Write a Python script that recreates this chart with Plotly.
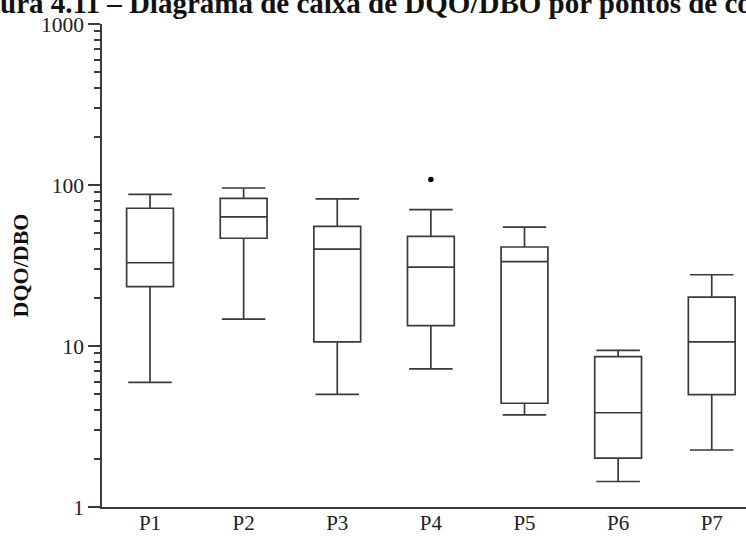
import plotly.graph_objects as go

categories = ["P1", "P2", "P3", "P4", "P5", "P6", "P7"]
lower_whisker = [5.95, 14.7, 5.0, 7.2, 3.73, 1.44, 2.26]
q1 = [23.4, 46.7, 10.6, 13.4, 4.41, 2.01, 4.99]
median = [32.9, 63.3, 40.0, 30.9, 33.4, 3.85, 10.6]
q3 = [71.7, 82.7, 55.4, 48.0, 41.2, 8.58, 20.1]
upper_whisker = [87.5, 95.8, 81.9, 70.3, 54.8, 9.40, 27.7]
outlier_cat = ["P4"]
outlier_val = [108.0]

y_tickvals = [1, 10, 100, 1000]
y_ticktext = ["1", "10", "100", "1000"]
minor_vals = [m * d for d in (1, 10, 100) for m in range(2, 10)]

FONT = "Liberation Serif"
LINE = "#3a3a3a"

fig = go.Figure()
fig.add_trace(go.Box(
    x=categories,
    q1=q1, median=median, q3=q3,
    lowerfence=lower_whisker, upperfence=upper_whisker,
    boxpoints=False,
    width=0.5,
    whiskerwidth=0.93,
    fillcolor="white",
    line=dict(color=LINE, width=1.7),
    showlegend=False,
    hoverinfo="skip",
))
fig.add_trace(go.Scatter(
    x=outlier_cat, y=outlier_val, mode="markers",
    marker=dict(color="black", size=5.5),
    showlegend=False, hoverinfo="skip",
))

fig.update_layout(
    width=746, height=536,
    margin=dict(l=102, r=0, t=24, b=29, autoexpand=False),
    paper_bgcolor="white", plot_bgcolor="white",
    font=dict(family=FONT, size=21, color="#222"),
    xaxis=dict(
        type="category",
        range=[-0.513, 6.366],
        automargin=False,
        showline=True, linecolor=LINE, linewidth=1.6,
        ticks="", showgrid=False, zeroline=False,
        ticklabelstandoff=-4,
        tickfont=dict(family=FONT, size=21, color="#222"),
    ),
    yaxis=dict(
        type="log",
        range=[0, 3],
        automargin=False,
        showline=True, linecolor=LINE, linewidth=1.6,
        ticks="outside", ticklen=12, tickwidth=1.6, tickcolor=LINE,
        tickmode="array", tickvals=y_tickvals, ticktext=y_ticktext,
        showgrid=False, zeroline=False,
        tickfont=dict(family=FONT, size=21.5, color="#222"),
        title=dict(text="<b>DQO/DBO</b>", font=dict(family=FONT, size=22, color="#111"), standoff=6),
        minor=dict(tickmode="array", tickvals=minor_vals, ticks="outside",
                   ticklen=6, tickwidth=1.5, tickcolor=LINE, showgrid=False),
    ),
)

fig.add_annotation(
    text="<b>ura 4.11 – Diagrama de caixa de DQO/DBO por pontos de coleta</b>",
    xref="paper", yref="paper",
    x=(-2 - 102) / 644, y=(507 - 3) / 483,
    xanchor="left", yanchor="middle",
    showarrow=False,
    font=dict(family=FONT, size=29, color="#111"),
)

fig.write_html("out.html")
